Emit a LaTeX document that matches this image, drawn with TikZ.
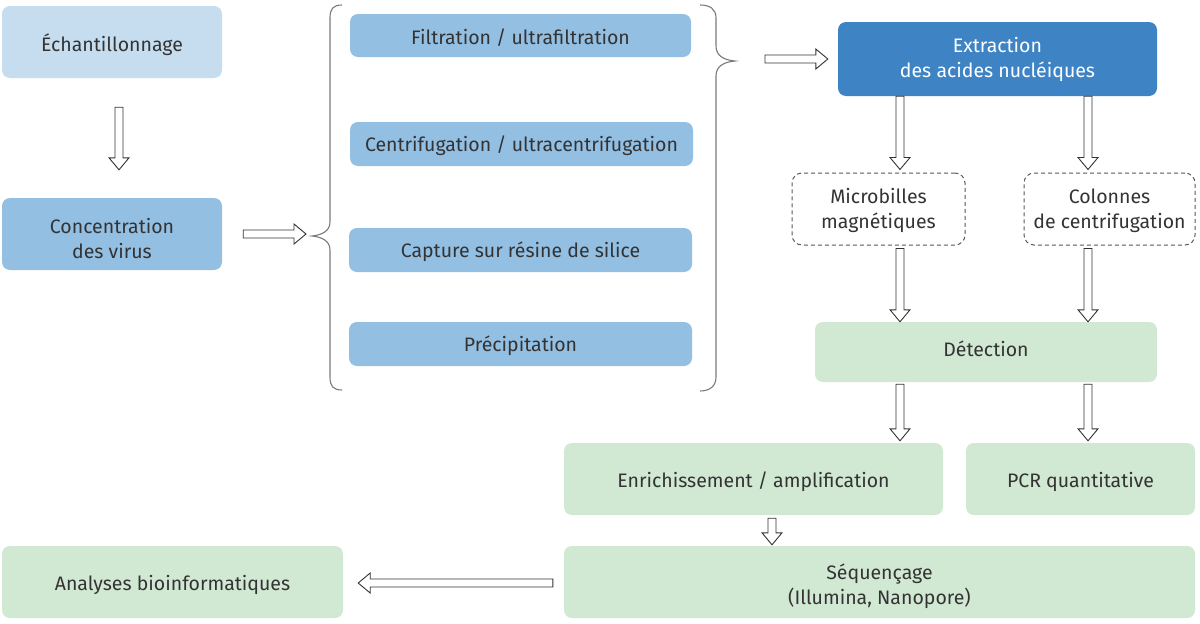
\documentclass[tikz,border=0pt]{standalone}
\usepackage{fontspec}
\setmainfont{Fira Sans}
\usetikzlibrary{calc}
\definecolor{lblue}{HTML}{C6DDF0}
\definecolor{mblue}{HTML}{93BFE3}
\definecolor{dblue}{HTML}{3E84C5}
\definecolor{lgreen}{HTML}{D1E8D3}
\definecolor{txt}{HTML}{333333}
\definecolor{bracec}{HTML}{7A7A7A}
\tikzset{
  box/.style={rounded corners=8pt, align=center, text=txt, inner sep=0pt,
    font=\fontsize{19.5}{25}\selectfont},
  harrow/.style={draw=black!80, line width=0.9pt, fill=white, line join=miter},
  bracepath/.style={draw=bracec, line width=1.1pt},
  dashbox/.style={box, draw=black!65, line width=1pt, dash pattern=on 4pt off 3pt, rounded corners=10pt}
}
\newcommand{\dn}[2]{\raisebox{-#1}[\height][\depth]{#2}}
\newcommand{\dntwo}[3]{\raisebox{-#1}[\height][\depth]{\begin{tabular}{@{}c@{}}#2\\#3\end{tabular}}}
\newcommand{\hollowarrow}[2]{%
  \coordinate (ha-s) at (#1);
  \coordinate (ha-e) at (#2);
  \coordinate (ha-h) at ($(ha-e)!12pt!(ha-s)$);
  \draw[harrow] ($(ha-s)!4pt!90:(ha-e)$) -- ($(ha-h)!4pt!90:(ha-e)$) -- ($(ha-h)!10pt!90:(ha-e)$) -- (ha-e) -- ($(ha-h)!10pt!-90:(ha-e)$) -- ($(ha-h)!4pt!-90:(ha-e)$) -- ($(ha-s)!4pt!-90:(ha-e)$) -- cycle;
}
\begin{document}
\begin{tikzpicture}[x=1pt,y=-1pt]
\useasboundingbox[fill=white] (0,0) rectangle (1200,624);
% nodes
\node[box, fill=lblue, minimum width=220pt, minimum height=72pt] (ech) at (112,42) {\dn{3pt}{Échantillonnage}};
\node[box, fill=mblue, minimum width=220pt, minimum height=72pt] (conc) at (112,234) {\dntwo{7pt}{Concentration}{des virus}};
\node[box, fill=mblue, minimum width=341pt, minimum height=43pt] (filt) at (520.5,35.5) {\dn{2pt}{Filtration / ultrafiltration}};
\node[box, fill=mblue, minimum width=343pt, minimum height=44pt] (cent) at (521.5,144) {\dn{2pt}{Centrifugation / ultracentrifugation}};
\node[box, fill=mblue, minimum width=343pt, minimum height=44pt] (capt) at (520.5,250) {\dn{2pt}{Capture sur résine de silice}};
\node[box, fill=mblue, minimum width=343pt, minimum height=44pt] (prec) at (520.5,344) {\dn{2pt}{Précipitation}};
\node[box, fill=dblue, text=white, minimum width=319pt, minimum height=74pt] (extr) at (997.5,59) {\dntwo{1pt}{Extraction}{des acides nucléiques}};
\node[dashbox, minimum width=173pt, minimum height=72pt] (micro) at (878.5,209) {\dntwo{2pt}{Microbilles}{magnétiques}};
\node[dashbox, minimum width=171pt, minimum height=72pt] (colo) at (1109.5,209) {\dntwo{2pt}{Colonnes}{de centrifugation}};
\node[box, fill=lgreen, minimum width=342pt, minimum height=60pt] (det) at (986,352) {\dn{-3pt}{Détection}};
\node[box, fill=lgreen, minimum width=379pt, minimum height=72pt] (enr) at (753.5,479) {\dn{3pt}{Enrichissement / amplification}};
\node[box, fill=lgreen, minimum width=229pt, minimum height=72pt] (pcr) at (1080.5,479) {\dn{3pt}{PCR quantitative}};
\node[box, fill=lgreen, minimum width=631pt, minimum height=72pt] (seq) at (879.5,582) {\dntwo{5pt}{Séquençage}{(Illumina, Nanopore)}};
\node[box, fill=lgreen, minimum width=341pt, minimum height=72pt] (ana) at (172.5,582) {\dn{3pt}{Analyses bioinformatiques}};
% braces
\draw[bracepath] (342,5) .. controls (333,5) and (330,9) .. (330,18) -- (330,222) .. controls (330,231) and (322,235) .. (312,236) .. controls (322,237) and (330,241) .. (330,250) -- (330,377) .. controls (330,386) and (333,390) .. (342,390);
\coordinate (lbtip) at (312,236);
\draw[bracepath] (700,5) .. controls (710,5) and (716,9) .. (716,18) -- (716,46) .. controls (716,56) and (724,60) .. (735,61) .. controls (724,62) and (716,66) .. (716,76) -- (716,377) .. controls (716,386) and (710,391) .. (700,391);
\coordinate (rbtip) at (735,61);
% arrows
\hollowarrow{$(ech.south)+(7,29)$}{$(conc.north)+(7,-28)$}
\hollowarrow{$(conc.east)+(21,0)$}{$(conc.east -| lbtip)+(-6,0)$}
\hollowarrow{$(extr.west -| rbtip)+(30,0)$}{$(extr.west)+(-10,0)$}
\hollowarrow{$(extr.south)+(-97.5,0)$}{$(micro.north)+(21.5,-3)$}
\hollowarrow{$(extr.south)+(90.5,0)$}{$(colo.north)+(-21.5,-3)$}
\hollowarrow{$(micro.south)+(21.5,3)$}{$(det.north)+(-86,0)$}
\hollowarrow{$(colo.south)+(-21.5,3)$}{$(det.north)+(102,0)$}
\hollowarrow{$(det.south)+(-86,2)$}{$(enr.north)+(146.5,-2)$}
\hollowarrow{$(det.south)+(102,2)$}{$(pcr.north)+(7.5,-2)$}
\hollowarrow{$(enr.south)+(18.5,3)$}{$(seq.north)+(-107.5,-1)$}
\hollowarrow{$(seq.west)+(-11,1)$}{$(ana.east)+(15,1)$}
\end{tikzpicture}
\end{document}
